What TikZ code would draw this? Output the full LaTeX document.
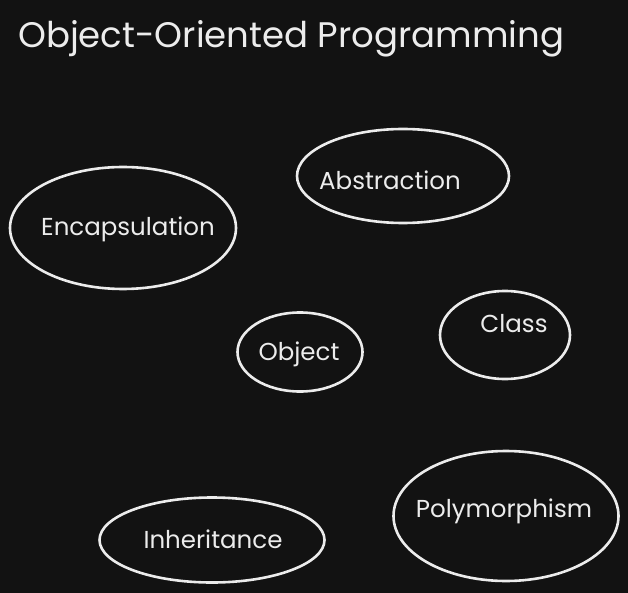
\documentclass[tikz,border=0pt]{standalone}
\usepackage{fontspec}
\setmainfont{Poppins}
\usetikzlibrary{shapes.geometric}
\definecolor{board}{HTML}{121212}
\definecolor{chalk}{HTML}{ECECEC}
\tikzset{
    blob/.style={ellipse, draw=chalk, line width=2.6pt, inner sep=0pt},
    word/.style={text=chalk, inner sep=0pt, font=\fontsize{24.5}{28}\selectfont},
}
\begin{document}
\begin{tikzpicture}[x=1pt, y=-1pt]

        %
        \fill[board] (0,0) rectangle (628,593);
        \useasboundingbox (0,0) rectangle (628,593);

        %
        \node[anchor=base west, text=chalk, inner sep=0pt,
            font=\fontsize{35.5}{40}\selectfont] (title) at (18,48) {Object-Oriented Programming};

        %
        \node[blob, minimum width=226pt, minimum height=122pt] (encap) at (123,228) {};
        \node[blob, minimum width=212pt, minimum height=94pt] (abstr) at (403,176) {};
        \node[blob, minimum width=125pt, minimum height=79pt] (obj) at (300,352) {};
        \node[blob, minimum width=130pt, minimum height=88pt] (cls) at (505,335) {};
        \node[blob, minimum width=225pt, minimum height=130pt] (poly) at (506,516) {};
        \node[blob, minimum width=225pt, minimum height=85pt] (inher) at (212,540) {};

        %
        \node[word] (encapT) at (128,229) {Encapsulation};
        \node[word] (abstrT) at (390,180) {Abstraction};
        \node[word] (objT) at (299,354) {Object};
        \node[word] (clsT) at (514,324) {Class};
        \node[word] (polyT) at (504,511) {Polymorphism};
        \node[word] (inherT) at (213,539) {Inheritance};

    \end{tikzpicture}
\end{document}
